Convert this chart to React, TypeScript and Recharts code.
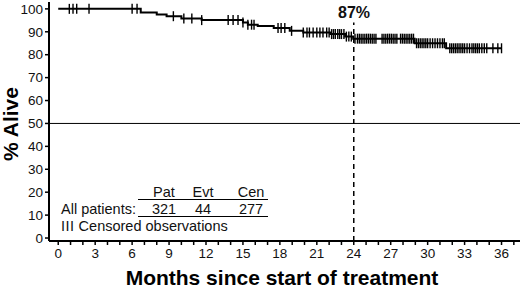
import React from 'react';
import { ComposedChart, Line, Scatter, XAxis, YAxis, ReferenceLine } from 'recharts';

// Kaplan-Meier steps: event times (months) and survival (%)
const eventTimes = [0, 6.7, 8.0, 8.8, 10.0, 11.65, 15.0, 15.4, 16.2, 17.5, 18.8, 19.9, 22.1, 23.3, 23.95, 28.95, 31.5, 36.0];
const survival = [100, 98.4, 97.5, 96.8, 95.8, 95.1, 94.0, 93.1, 92.5, 91.6, 90.4, 89.7, 89.0, 87.9, 87.0, 85.0, 82.8, 82.8];

// censored observations (months)
const censorTimes = [
  0.9, 1.2, 1.5, 2.5, 6.0, 6.4, 9.35, 10.2, 10.85, 11.65, 13.8, 14.2, 14.6, 15.0, 15.4, 15.7, 15.9,
  17.85, 18.1, 18.4, 18.95, 19.9, 20.2, 20.4, 20.7, 21.0, 21.25, 21.5, 21.8, 22.0, 22.2, 22.35, 22.5,
  22.7, 22.85, 23.0, 23.2, 23.4, 23.6, 23.8, 24.1, 24.3, 24.45, 24.6, 24.75, 24.9, 25.05, 25.2, 25.35,
  25.5, 25.65, 25.8, 26.3, 26.45, 26.6, 26.75, 26.9, 27.05, 27.2, 27.35, 27.5, 27.8, 27.95, 28.1, 28.25,
  28.4, 28.55, 28.7, 28.85, 29.1, 29.25, 29.4, 29.55, 29.7, 29.85, 30.0, 30.2, 30.4, 30.6, 30.8, 31.0,
  31.2, 31.35, 31.8, 31.95, 32.1, 32.25, 32.4, 32.55, 32.7, 32.85, 33.0, 33.2, 33.4, 33.6, 33.75, 33.9,
  34.05, 34.2, 34.4, 34.6, 34.8, 35.3, 35.7, 36.0,
];

const yTicks = [0, 10, 20, 30, 40, 50, 60, 70, 80, 90, 100];
const xTicks = Array.from({ length: 38 }, (_, i) => i);

const landmarkMonth = 24;
const landmarkLabel = '87%';

const tableHeader = ['Pat', 'Evt', 'Cen'];
const tableRow = ['321', '44', '277'];
const rowLabel = 'All patients:';

const kmData = eventTimes.map((t, i) => ({ t, s: survival[i] }));

const survAt = (t: number) => {
  let s = survival[0];
  for (let i = 0; i < eventTimes.length; i++) {
    if (eventTimes[i] <= t) s = survival[i];
  }
  return s;
};
const censorData = censorTimes.map((t) => ({ t, s: survAt(t) }));

const CensorMark = (props: any) => {
  const { cx, cy } = props;
  if (cx == null || cy == null) return null;
  return <line x1={cx} x2={cx} y1={cy - 5} y2={cy + 5} stroke="#000" strokeWidth={1.4} />;
};

const font = '"Liberation Sans", Arial, sans-serif';

const abs = (left: number, top: number, extra: React.CSSProperties = {}): React.CSSProperties => ({
  position: 'absolute', left, top, whiteSpace: 'nowrap', ...extra,
});

export default function App() {
  const colX = [164, 203, 251];
  return (
    <div style={{ position: 'absolute', left: 0, top: 0, width: 520, height: 294, background: '#fff', fontFamily: font, color: '#111' }}>
      <ComposedChart width={520} height={294} margin={{ top: 2, right: 0, left: 0, bottom: 0 }}>
        <XAxis
          type="number"
          dataKey="t"
          domain={[-0.75, 37.5]}
          ticks={xTicks}
          interval={0}
          tickFormatter={(v: number) => (v % 3 === 0 ? String(v) : '')}
          height={53}
          tickSize={4}
          tickMargin={3}
          axisLine={{ stroke: '#000', strokeWidth: 2 }}
          tickLine={{ stroke: '#000', strokeWidth: 1.5 }}
          tick={{ fontSize: 13.5, fill: '#111', fontFamily: font }}
          allowDataOverflow
        />
        <YAxis
          type="number"
          domain={[-1.3, 103]}
          ticks={yTicks}
          interval={0}
          width={49}
          tickSize={4}
          tickMargin={2}
          axisLine={{ stroke: '#000', strokeWidth: 2 }}
          tickLine={{ stroke: '#000', strokeWidth: 1.5 }}
          tick={{ fontSize: 13.5, fill: '#111', fontFamily: font }}
          allowDataOverflow
        />
        <ReferenceLine y={50} stroke="#000" strokeWidth={1} />
        <ReferenceLine
          segment={[{ x: landmarkMonth, y: -1.3 }, { x: landmarkMonth, y: 94 }]}
          stroke="#000"
          strokeWidth={1.5}
          strokeDasharray="5 4"
        />
        <Line
          data={kmData}
          dataKey="s"
          type="stepAfter"
          stroke="#000"
          strokeWidth={2}
          dot={false}
          isAnimationActive={false}
        />
        <Scatter data={censorData} dataKey="s" shape={CensorMark} isAnimationActive={false} />
      </ComposedChart>

      <div style={abs(354 - 30, 3, { width: 60, textAlign: 'center', fontWeight: 'bold', fontSize: 16, lineHeight: '20px' })}>
        {landmarkLabel}
      </div>

      {tableHeader.map((h, i) => (
        <div key={h} style={abs(colX[i] - 25, 184, { width: 50, textAlign: 'center', fontSize: 14.5, lineHeight: '16px' })}>{h}</div>
      ))}
      <div style={abs(138, 198.5, { width: 130, height: 0, borderTop: '1.3px solid #000' })} />
      <div style={abs(61, 201, { fontSize: 14.5, lineHeight: '16px' })}>{rowLabel}</div>
      {tableRow.map((v, i) => (
        <div key={i} style={abs(colX[i] - 25, 201, { width: 50, textAlign: 'center', fontSize: 14.5, lineHeight: '16px' })}>{v}</div>
      ))}
      <div style={abs(138, 216, { width: 130, height: 0, borderTop: '1.3px solid #000' })} />
      <div style={abs(61, 218, { fontSize: 14.5, lineHeight: '16px' })}>
        <span style={{ letterSpacing: 0.5 }}>III</span> Censored observations
      </div>

      <div style={abs(10.5 - 60, 124 - 12, { width: 120, height: 24, textAlign: 'center', fontWeight: 'bold', fontSize: 21, lineHeight: '24px', transform: 'rotate(-90deg)', color: '#000' })}>
        % Alive
      </div>
      <div style={abs(0, 267, { width: 564, textAlign: 'center', fontWeight: 'bold', fontSize: 21, lineHeight: '22px', color: '#000' })}>
        Months since start of treatment
      </div>
    </div>
  );
}
